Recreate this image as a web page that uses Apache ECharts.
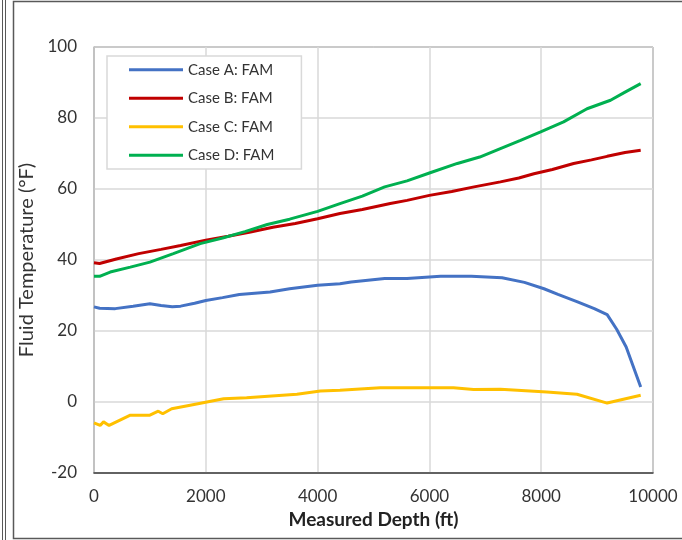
<!DOCTYPE html>
<html>
<head>
<meta charset="utf-8">
<script src="https://cdn.jsdelivr.net/npm/echarts@6/dist/echarts.min.js"></script>
<style>
    html, body { margin: 0; padding: 0; background: #fff; }
    #chart { width: 682px; height: 540px; }
</style>
</head>
<body>
<div id="chart"></div>
<script>
// values
const seriesNames = ["Case A: FAM", "Case B: FAM", "Case C: FAM", "Case D: FAM"]
const seriesColors = ["#4472C4", "#C00000", "#FFC000", "#00B050"]

const depthA = [0, 100, 380, 700, 1000, 1200, 1400, 1550, 1800, 2000, 2300, 2600, 3150, 3500, 4000, 4400, 4600, 5200, 5600, 6200, 6750, 7300, 7700, 8050, 8300, 8650, 8950, 9180, 9350, 9520, 9780]
const tempA = [26.8, 26.4, 26.3, 27.0, 27.7, 27.2, 26.8, 27.0, 27.8, 28.6, 29.4, 30.3, 31.0, 31.9, 32.9, 33.3, 33.8, 34.8, 34.8, 35.4, 35.4, 35.0, 33.7, 31.9, 30.3, 28.2, 26.3, 24.6, 20.5, 15.5, 4.2]

const depthB = [0, 100, 400, 800, 1200, 1550, 2000, 2400, 2800, 3200, 3600, 4000, 4400, 4800, 5300, 5600, 6000, 6400, 6800, 7270, 7600, 7870, 8200, 8580, 8900, 9180, 9500, 9780]
const tempB = [39.2, 39.0, 40.3, 41.8, 43.0, 44.1, 45.6, 46.7, 47.9, 49.2, 50.3, 51.6, 53.1, 54.2, 55.9, 56.8, 58.2, 59.3, 60.6, 62.0, 63.1, 64.3, 65.5, 67.2, 68.2, 69.2, 70.3, 70.9]

const depthC = [0, 110, 170, 270, 400, 650, 1000, 1150, 1230, 1390, 1720, 2020, 2320, 2730, 3630, 4050, 4400, 5120, 6430, 6790, 7270, 8100, 8640, 9180, 9780]
const tempC = [-5.9, -6.6, -5.6, -6.6, -5.6, -3.7, -3.7, -2.6, -3.3, -1.9, -0.9, 0, 0.9, 1.2, 2.2, 3.1, 3.3, 4.0, 4.0, 3.5, 3.6, 2.8, 2.2, -0.3, 1.9]

const depthD = [0, 100, 290, 650, 1000, 1420, 1900, 2300, 2700, 3100, 3500, 4000, 4400, 4800, 5200, 5600, 6000, 6500, 6900, 7270, 7630, 7990, 8400, 8820, 9240, 9500, 9780]
const tempD = [35.4, 35.4, 36.6, 38.0, 39.4, 41.8, 44.6, 46.2, 48.0, 50.0, 51.5, 53.7, 55.9, 58.0, 60.6, 62.3, 64.5, 67.2, 69.0, 71.4, 73.7, 76.1, 78.9, 82.6, 85.0, 87.3, 89.7]

function pairs(xs, ys) {
    return xs.map(function (x, i) {
        return [x, ys[i]]
    })
}

function setFluidTempChart() {
    const myChart = echarts.init(document.getElementById("chart"))
    const font = "Lato"
    const allData = [pairs(depthA, tempA), pairs(depthB, tempB), pairs(depthC, tempC), pairs(depthD, tempD)]

    const option = {
        backgroundColor: "#fff",
        animation: false,
        color: seriesColors,
        textStyle: {
            fontFamily: font
        },
        grid: {
            left: 94,
            right: 29,
            top: 47,
            bottom: 67,
            show: true,
            borderColor: "#404040",
            borderWidth: 1
        },
        legend: {
            orient: "vertical",
            left: 107,
            top: 56,
            icon: "rect",
            itemWidth: 54,
            itemHeight: 3,
            itemGap: 13,
            padding: [6, 27, 6, 22],
            backgroundColor: "#fff",
            borderColor: "#d9d9d9",
            borderWidth: 1.5,
            textStyle: {
                fontFamily: font,
                fontSize: 15,
                lineHeight: 15.5,
                color: "#333"
            },
            data: seriesNames
        },
        xAxis: {
            type: "value",
            min: 0,
            max: 10000,
            interval: 2000,
            name: "Measured Depth (ft)",
            nameLocation: "middle",
            nameGap: 37,
            nameTextStyle: {
                fontFamily: font,
                fontSize: 19,
                fontWeight: "bold",
                color: "#222"
            },
            axisLine: {
                onZero: false,
                lineStyle: {
                    color: "#404040",
                    width: 1.5
                }
            },
            axisTick: {
                show: false
            },
            axisLabel: {
                fontFamily: font,
                fontSize: 17,
                color: "#333",
                margin: 15,
                formatter: function (v) {
                    return String(v)
                }
            },
            splitLine: {
                lineStyle: {
                    color: "#d9d9d9",
                    width: 1.5
                }
            }
        },
        yAxis: {
            type: "value",
            min: -20,
            max: 100,
            interval: 20,
            name: "Fluid Temperature (°F)",
            nameLocation: "middle",
            nameGap: 55,
            nameTextStyle: {
                fontFamily: font,
                fontSize: 20,
                color: "#333"
            },
            axisLine: {
                show: true,
                lineStyle: {
                    color: "#bfbfbf",
                    width: 1.5
                }
            },
            axisTick: {
                show: false
            },
            axisLabel: {
                fontFamily: font,
                fontSize: 17,
                color: "#333",
                margin: 17
            },
            splitLine: {
                lineStyle: {
                    color: "#d9d9d9",
                    width: 1.5
                }
            }
        },
        series: seriesNames.map(function (name, i) {
            return {
                name: name,
                type: "line",
                symbol: "none",
                data: allData[i],
                lineStyle: {
                    width: 3,
                    color: seriesColors[i]
                }
            }
        }),
        // page frame lines of the original screenshot
        graphic: [{
            type: "line",
            shape: { x1: 2.5, y1: 0, x2: 2.5, y2: 540 },
            style: { stroke: "#595959", lineWidth: 1 }
        }, {
            type: "line",
            shape: { x1: 5.5, y1: 0, x2: 5.5, y2: 540 },
            style: { stroke: "#595959", lineWidth: 1 }
        }, {
            type: "polyline",
            shape: { points: [[682, 1.5], [13.5, 1.5], [13.5, 538.5], [682, 538.5]] },
            style: { stroke: "#595959", lineWidth: 1.5, fill: null }
        }]
    }
    myChart.setOption(option)
}

setFluidTempChart()
</script>
</body>
</html>
